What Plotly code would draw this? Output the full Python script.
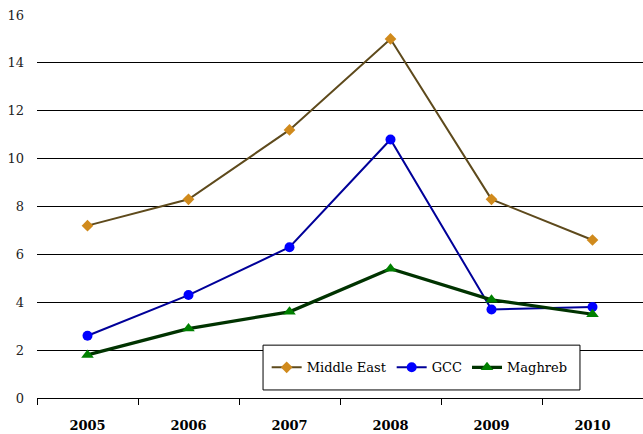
import plotly.graph_objects as go

years = ["2005", "2006", "2007", "2008", "2009", "2010"]
middle_east = [7.2, 8.3, 11.2, 15.0, 8.3, 6.6]
gcc = [2.6, 4.3, 6.3, 10.8, 3.7, 3.8]
maghreb = [1.8, 2.9, 3.6, 5.4, 4.1, 3.5]
y_ticks = [0, 2, 4, 6, 8, 10, 12, 14, 16]

font_family = "DejaVu Serif"

fig = go.Figure()
fig.add_trace(go.Scatter(
    x=years, y=middle_east, name="Middle East", mode="lines+markers",
    line=dict(color="#5E4A1C", width=2),
    marker=dict(symbol="diamond", size=9, color="#D08A1C"),
))
fig.add_trace(go.Scatter(
    x=years, y=gcc, name="GCC", mode="lines+markers",
    line=dict(color="#000099", width=2),
    marker=dict(symbol="circle", size=10, color="#0000FF"),
))
fig.add_trace(go.Scatter(
    x=years, y=maghreb, name="Maghreb", mode="lines+markers",
    line=dict(color="#003300", width=3.2),
    marker=dict(symbol="triangle-up", size=11, color="#008000"),
))

# legend frame drawn as a white box with a black border
fig.add_shape(
    type="rect", xref="paper", yref="paper",
    x0=0.373, x1=0.896, y0=0.021, y1=0.138,
    line=dict(color="black", width=1), fillcolor="white", layer="above",
)

fig.update_layout(
    width=643, height=434,
    margin=dict(l=37, r=0, t=15, b=36),
    paper_bgcolor="white", plot_bgcolor="white",
    font=dict(family=font_family, size=13, color="black"),
    showlegend=True,
    legend=dict(
        orientation="h", x=0.379, y=0.08, xanchor="left", yanchor="middle",
        borderwidth=0, bgcolor="rgba(0,0,0,0)",
        font=dict(family=font_family, size=13, color="black"),
        itemwidth=30,
    ),
    xaxis=dict(
        type="category", range=[-0.5, 5.5],
        showgrid=False, showline=True, linecolor="black", linewidth=1,
        ticks="outside", tickson="boundaries", ticklen=6, tickcolor="black",
        ticklabelstandoff=15,
        tickfont=dict(family=font_family, size=13, color="black", weight="bold"),
    ),
    yaxis=dict(
        range=[0, 16], tickvals=y_ticks, showline=False,
        showgrid=True, gridcolor="black", gridwidth=1, zeroline=False,
        ticks="", ticklabelstandoff=12,
        tickfont=dict(family=font_family, size=13, color="#222"),
    ),
)

fig.write_html("out.html")
